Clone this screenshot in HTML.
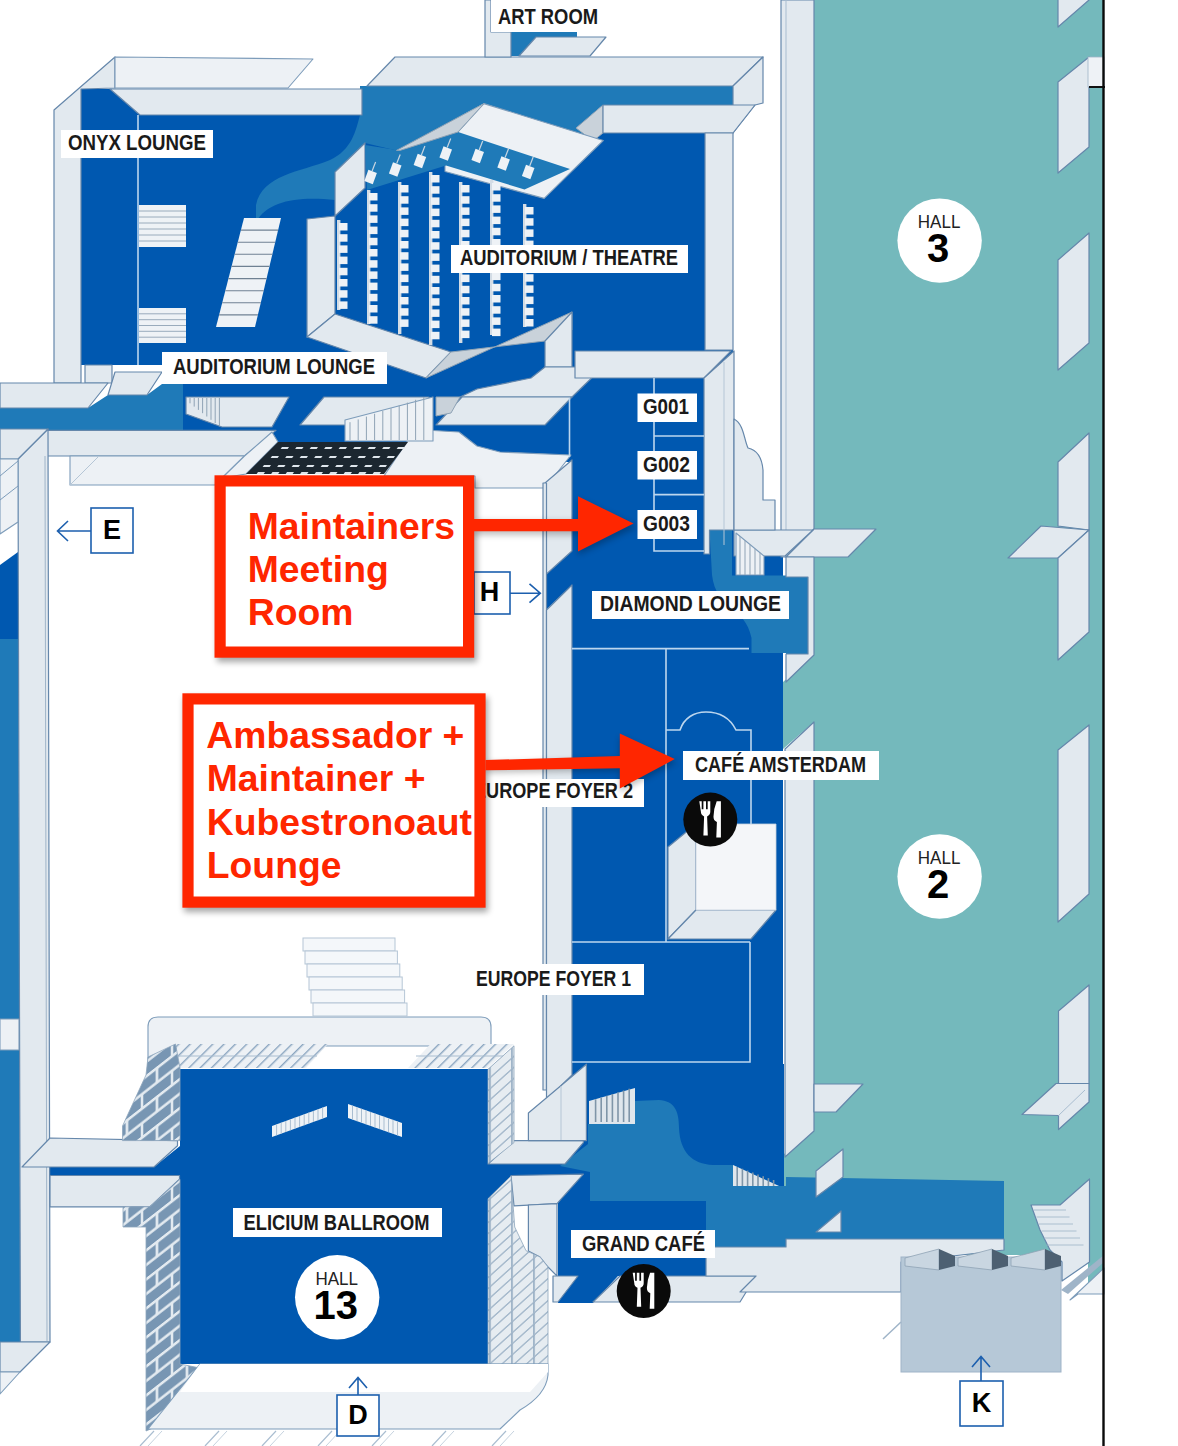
<!DOCTYPE html>
<html lang="en">
<head>
<meta charset="utf-8">
<title>Venue Map</title>
<style>
html,body{margin:0;padding:0;background:#fff;}
body{width:1178px;height:1446px;overflow:hidden;position:relative;font-family:"Liberation Sans",sans-serif;}
svg{position:absolute;left:0;top:0;display:block;}
.w{fill:#e2e9ef;stroke:#6587ab;stroke-width:1.2;stroke-linejoin:round;}
.w2{fill:#edf1f5;stroke:#7d9cba;stroke-width:1.1;stroke-linejoin:round;}
.wg{fill:#c9d2da;stroke:#8fa3b5;stroke-width:1;stroke-linejoin:round;}
.wn{fill:#e3eaf0;}
.db{fill:#0058b0;}
.mb{fill:#1f7ab8;}
.tl{fill:#74b9bc;}
.ln{fill:none;stroke:#bcd6ee;stroke-width:1.6;}
.st{fill:#eef2f6;stroke:#9fb2c4;stroke-width:0.8;}
.lab{fill:#fff;}
.lt{font-family:"Liberation Sans",sans-serif;font-weight:bold;fill:#1a1a1a;}
.ht{font-family:"Liberation Sans",sans-serif;fill:#222;text-anchor:middle;}
.hn{font-family:"Liberation Sans",sans-serif;font-weight:bold;fill:#000;text-anchor:middle;}
.eb{fill:#fff;stroke:#1c5fae;stroke-width:1.6;}
.et{font-family:"Liberation Sans",sans-serif;font-weight:bold;fill:#000;font-size:27px;text-anchor:middle;}
.ar{fill:none;stroke:#1c5fae;stroke-width:1.6;}
.red{fill:#ff2600;}
.rt{font-family:"Liberation Sans",sans-serif;font-weight:bold;fill:#ff2600;}
</style>
</head>
<body>
<svg width="1178" height="1446" viewBox="0 0 1178 1446">
<defs>
<pattern id="hatch" width="8" height="8" patternUnits="userSpaceOnUse" patternTransform="rotate(-45)">
<rect width="8" height="8" fill="#edf1f5"/><rect width="8" height="1.4" fill="#8aa5c0"/>
</pattern>
<pattern id="brick" width="30" height="29" patternUnits="userSpaceOnUse" patternTransform="skewY(-38)">
<rect width="30" height="29" fill="#7896b3"/><path d="M0 1.7H30M0 16.2H30" stroke="#e3eaf0" stroke-width="3.2" fill="none"/><path d="M7 1.7V16.2M22 16.2V30.7" stroke="#e3eaf0" stroke-width="2.6" fill="none"/>
</pattern>
<pattern id="brick2" width="22" height="11" patternUnits="userSpaceOnUse" patternTransform="skewY(-42)">
<rect width="22" height="11" fill="#e6ecf1"/><path d="M0 1H22M6 1V11" stroke="#94abc2" stroke-width="1.5" fill="none"/>
</pattern>
<filter id="sh" x="-10%" y="-10%" width="120%" height="125%"><feGaussianBlur stdDeviation="3"/></filter>
</defs>
<rect width="1178" height="1446" fill="#fff"/>

<!-- ===== HALLS (teal) ===== -->
<g id="halls">
<rect class="tl" x="812" y="0" width="291" height="1255"/><rect class="tl" x="1088" y="1250" width="15" height="44"/>
<polygon class="tl" points="783,682 814,655 814,722 783,749"/>
<polygon class="tl" points="784,1154 814,1131 814,1186 784,1186"/>
</g>


<!-- ===== DARK BLUE ===== -->
<g id="darkblue" class="db">
<!-- onyx + auditorium -->
<polygon points="81,89 112,89 140,115 733,115 733,380 571,380 571,462 400,462 400,444 183,444 183,384 162,384 162,365 81,365"/>
<!-- G rooms / diamond / europe foyers -->
<polygon points="571,378 705,378 705,530 783,530 783,1165 571,1165"/>
<polygon points="546,574 572,551 572,585 546,610"/>
<!-- lower right of foyers / grand cafe -->
<polygon points="586,1064 784,1064 784,1190 700,1190 586,1140"/>
<polygon points="558,1172 592,1172 592,1201 706,1201 706,1276 618,1276 593,1303 558,1303"/>
<!-- ballroom -->
<rect x="180" y="1069" width="308" height="295"/>
<!-- horizontal strip through ballroom -->
<polygon points="19,1167 154,1167 180,1146 180,1179 50,1175.5 19,1203"/>
<polygon points="488,1164 600,1164 600,1176 511,1176 488,1199"/>
<!-- far-left strip -->
<polygon points="0,565 18,552 18,639 0,639"/>
</g>

<!-- ===== MID BLUE ===== -->
<g id="midblue" class="mb">
<!-- swoosh in auditorium area -->
<path d="M360,86 L733,86 L733,105 L603,105 L576,128 L603,140.5 L483.9,103.6 L396.5,150.4 L365,143 L335,172 L335,200 C300,196 268,200 256,222 L256,205 C262,175 300,172 330,160 C352,150 356,130 360,115 Z"/>
<!-- art room -->
<rect x="511" y="32" width="66" height="24"/>
<!-- left band -->
<polygon points="0,408 88,408 108,395 147,395 162,384 183,384 183,430 0,430"/>
<!-- far-left column -->
<rect x="0" y="639" width="21" height="380"/>
<rect x="0" y="1050" width="21" height="292"/>
<!-- diamond lounge L -->
<path d="M709.5,530 L732,530 L732,575.5 L807.6,575.5 L807.6,653 L751.5,653 L751.5,638 C745,605 716,610 712,575 Z"/>
<rect x="786" y="577" width="22" height="77"/>
<!-- grand cafe blob -->
<path d="M588,1124 L635,1124 L635,1101 L659,1100 C674,1101 679,1110 679,1128 C680,1152 692,1164 713,1165 L733,1165 L779,1186 L786,1186 L786,1177 L1004,1181 L1004,1239 L786,1239 L786,1247 L706,1247 L706,1201 L590,1201 L590,1172 L560,1166 L588,1144 Z"/>
</g>

<!-- SECTION:BLUE -->

<!-- ===== WALLS ===== -->
<g id="walls">
<!-- hall wall column -->
<polygon class="w" points="781,0 814,0 814,529 786,557 781,557"/>
<line x1="786" y1="0" x2="786" y2="530" stroke="#a9bdd0" stroke-width="1"/>
<polygon class="w" points="814,529 876,529 848,557 786,557"/>
<polygon class="w" points="734,530 813,530 785,556 734,556"/>
<polygon class="w" points="786,557 814,557 814,655 786,682 786,654 808,654 808,577 786,577"/>
<polygon class="w" points="785,749 814,722 814,1131 785,1157"/>
<!-- onyx lounge -->
<polygon class="w" points="54,110 115,57 115,88 81,89 81,383 54,383"/>
<polygon class="w2" points="115,57 313,59 288,88 115,88"/>
<polygon class="w" points="110,89 362,89 362,115 140,115"/>
<polygon class="w" points="85,365 112,365 112,383 85,383"/>
<polygon class="w" points="0,383 108,383 88,408 0,408"/>
<polygon class="w" points="115,372 162,372 147,395 108,395"/>
<line class="ln" x1="138" y1="115" x2="138" y2="365"/>
<!-- top beams of auditorium -->
<polygon class="w" points="367,86 395,57 763,57 733,86"/>
<polygon class="w" points="733,86 763,57 763,103 755,105 733,133"/>
<polygon class="wg" points="576,128 603,105 603,133 593,141"/>
<polygon class="w" points="603,105 755,105 733,133 603,133"/>
<polygon class="w" points="705,133 733,133 733,350 705,350"/>
<!-- art room -->
<polygon class="w" points="485,0 491,0 491,32 511,32 511,57 485,57"/>
<polygon class="w" points="536,37 606,37 590,56 519,56"/>
<!-- auditorium hexagon -->
<polygon class="w" points="307,219 335,216 335,314 307,337"/>
<polygon class="w" points="335,172 365,143 365,188 335,216"/>
<polygon class="w" points="307,337 335,314 451,352 426,378"/>
<polygon class="w2" points="483.9,103.6 603.3,140.5 544.2,198.4 445,171.5 445,164 458,132"/>
<polygon class="mb" points="365,145 400,150.4 458,132 570,169 524.5,189.5 446,165.5 367,190"/>
<polygon class="wg" points="396.5,150.4 483.9,103.6 458,132 400,150.4"/>
<polygon class="wg" points="426,378 572,312 572,330 545,341 451,352"/>
<polygon class="w" points="545,341 572,312 572,367 545,367"/>
<!-- beams below auditorium -->
<polygon class="w" points="545,367 603,367 572,397 460,397 477,389 531,378"/>
<polygon class="w" points="462,397 572,397 545,425 436,425"/>
<polygon class="wg" points="436,397 460,397 451,413 436,416"/>
<polygon class="w" points="575,351 731,351 704,378 575,378"/>
<polygon class="w" points="704,378 734,351 734,530 709.5,530 709.5,554 704,554"/>
<line x1="724" y1="362" x2="724" y2="545" stroke="#b5c6d6" stroke-width="1"/>
<polygon class="w" points="324,397 429,397 429,423 408,428 408,440 347,440 347,425 300,425"/>
<polygon class="w" points="186,397 289,397 272,427 222,427 186,414"/>
<!-- curvy piece right of G rooms -->
<path class="w" d="M734,419 C744,424 744,440 748,448 C757,450 762,458 763,470 L763,500 L775,500 L775,530 L734,530 Z"/>
<!-- court: top beam -->
<polygon class="w" points="47,430.4 276,430.4 244.5,456 47,456"/>
<polygon class="w2" points="70,456 244.5,456 215,485 70,485"/><line x1="70" y1="485" x2="99" y2="456" stroke="#b5c6d6" stroke-width="1"/>
<polygon class="w2" points="384,476 408,440 408,429 459,432 477,446 500,452 571,455 545,488 475,488 475,476"/>
<!-- court: right column -->
<polygon class="w" points="545,483 572,460 572,551 546.5,574"/>
<polygon class="w" points="543,483 546.5,483 546.5,1090 543,1090"/>
<polygon class="w" points="546.5,610 572,585 572,1075 546.5,1100"/>
<!-- court: left column -->
<polygon class="w" points="18,459 48,429 50,1342 20.4,1342"/>
<line x1="45" y1="456" x2="47" y2="1342" stroke="#9fb4c8" stroke-width="1"/>
<!-- far-left bits -->
<polygon class="w" points="0,429 48,429 18,459 0,459"/><polygon class="w2" points="0,459 18,459 18,522 0,534"/><path d="M0,476 L18,461 M0,500 L18,486" stroke="#7d9cba" stroke-width="1" fill="none"/>
<polygon class="w2" points="0,1019 19,1019 19,1050 0,1050"/>
<polygon class="w" points="0,1342 50,1342 20,1372 0,1372"/>
<polygon class="w2" points="0,1372 20,1372 0,1394"/>
<!-- beams to ballroom (left) -->
<polygon class="w" points="22,1167 50,1138 177.5,1140.6 177.5,1145.7 154,1167"/>
<polygon class="w" points="50,1175.5 179.5,1175.5 179.5,1179.3 150,1206.8 50,1206.8"/>
<!-- beams to ballroom (right) -->
<polygon class="w" points="488,1164 514,1140.6 583.4,1140.6 583.4,1142.6 565,1164"/>
<polygon class="w" points="528.4,1113 586.4,1064.2 586.4,1140.6 528.4,1140.6"/><line x1="561" y1="1086" x2="561" y2="1140" stroke="#b5c6d6" stroke-width="1"/>
<polygon class="w" points="511,1175.5 583.4,1174.2 557,1203.7 514,1205.8"/><polygon class="w" points="528.4,1205 557,1203.7 557,1276 548,1267 540,1257 528.4,1251"/>
<!-- ballroom top band -->
<path class="w2" d="M148,1069 L148,1027 Q148,1017 158,1017 L481,1017 Q491,1017 491,1027 L491,1046 L180,1046 Z"/>
<polygon fill="url(#hatch)" points="175.5,1044 328,1044 306,1068 180,1068"/><line x1="178" y1="1056" x2="317" y2="1056" stroke="#a9bdd0" stroke-width="1"/>
<polygon fill="url(#hatch)" points="430.6,1044 514,1044 488,1068 408,1068"/><line x1="416" y1="1056" x2="514" y2="1056" stroke="#a9bdd0" stroke-width="1"/>
<!-- brick walls -->
<polygon fill="url(#brick)" stroke="#8ea6bc" stroke-width="0.8" points="122.5,1140.6 122.5,1126 146,1075 148,1057 175.5,1044 180,1068 180,1140.6"/>
<polygon fill="url(#brick)" stroke="#8ea6bc" stroke-width="0.8" points="123,1206.8 150,1206.8 180,1179.3 180,1364 200,1368 153,1428 146,1431 146,1227 123,1227"/>
<polygon fill="url(#brick2)" stroke="#8ea6bc" stroke-width="0.8" points="488,1069.3 514,1045.8 514,1142.6 488,1163.5"/>
<polygon fill="url(#brick2)" stroke="#8ea6bc" stroke-width="0.8" points="488,1198.7 511,1176 514.7,1227 526,1250.7 540,1257 548,1267 548,1364 488,1364"/>
<!-- ballroom base -->
<path class="w2" d="M200,1364 L548,1364 L548,1375 Q546,1395 520,1410 L500,1429 L148,1429 Z"/>
<polygon fill="#fff" points="200,1364 548,1364 548,1372 530,1392 180,1392"/>
<!-- grand cafe floor strips -->
<polygon class="w" points="553,1276 578,1276 558,1302 553,1302"/>
<polygon class="w" points="620,1276 756,1276 740,1302 593,1302"/>
<polygon class="w" points="706,1247 786,1247 786,1239 1004,1239 1004,1250 901,1262 901,1292 740,1292 756,1276 706,1276"/>
<!-- cafe amsterdam white box -->
<polygon class="w" points="668,847 696,824 696,910 668,939"/>
<polygon class="w" points="668,939 696,910 776,910 751,939"/>
<polygon fill="#f4f6f9" stroke="#c5d2de" stroke-width="0.8" points="696,824 776,824 776,910 696,910"/>
<!-- K box -->
<rect x="901" y="1257" width="160" height="115" fill="#b6c8d7" stroke="#9fb4c8" stroke-width="1"/>
</g>

<!-- SECTION:WALLS -->
<!-- ===== DETAILS ===== -->
<g id="details">
<polygon class="w" points="1058,-5 1089,-30 1089,0 1058,27"/>
<polygon class="w" points="1058,82 1089,57 1089,147 1058,173"/>
<rect x="1088" y="57" width="16" height="30" fill="#eef2f6" stroke="#9fb4c8" stroke-width="0.8"/><rect x="1089" y="86" width="16" height="2" fill="#111"/>
<polygon class="w" points="1058,260 1089,233 1089,343 1058,370"/>
<polygon class="w" points="1058,462 1089,433 1089,530 1058,526"/>
<polygon class="w" points="1008,558 1041,526 1089,530 1058,558"/>
<polygon class="w" points="1058,558 1089,530 1089,632 1058,660"/>
<polygon class="w" points="1058,750 1089,725 1089,894 1058,922"/>
<polygon class="w" points="1058.5,1011 1089,985 1089,1084 1058.5,1084"/>
<polygon class="w" points="1022,1114.5 1056,1083.5 1089,1083.5 1089,1102 1058.5,1129.5 1058.5,1115.5"/><line x1="1058.5" y1="1115.5" x2="1085" y2="1090" stroke="#a9bdd0" stroke-width="1"/>
<polygon class="w" points="1031,1205 1060,1205 1089.5,1179 1089.5,1262 1062,1281 1062,1262 1050,1250 1040,1230"/>
<line x1="1034.0" y1="1210" x2="1066.0" y2="1210" stroke="#9fb4c8" stroke-width="0.8"/>
<line x1="1036.5" y1="1217" x2="1069.5" y2="1217" stroke="#9fb4c8" stroke-width="0.8"/>
<line x1="1039.0" y1="1224" x2="1073.0" y2="1224" stroke="#9fb4c8" stroke-width="0.8"/>
<line x1="1041.5" y1="1231" x2="1076.5" y2="1231" stroke="#9fb4c8" stroke-width="0.8"/>
<line x1="1044.0" y1="1238" x2="1080.0" y2="1238" stroke="#9fb4c8" stroke-width="0.8"/>
<line x1="1046.5" y1="1245" x2="1083.5" y2="1245" stroke="#9fb4c8" stroke-width="0.8"/>
<polygon class="w" points="814,1084 863,1084 836,1112 814,1112"/>
<polygon class="w" points="816,1171 843,1149 843,1177 816,1197"/>
<polygon class="w" points="816,1232 841,1211 841,1232"/>
<polygon fill="#c9d6e1" stroke="#8fa3b5" stroke-width="0.8" points="905,1258 939,1249 939,1270 905,1266"/><polygon fill="#4d6072" points="939,1249 955,1256 955,1266 939,1270"/>
<polygon fill="#c9d6e1" stroke="#8fa3b5" stroke-width="0.8" points="958,1258 992,1249 992,1270 958,1266"/><polygon fill="#4d6072" points="992,1249 1008,1256 1008,1266 992,1270"/>
<polygon fill="#c9d6e1" stroke="#8fa3b5" stroke-width="0.8" points="1011,1258 1045,1249 1045,1270 1011,1266"/><polygon fill="#4d6072" points="1045,1249 1061,1256 1061,1266 1045,1270"/>
<polygon fill="#9fb4c8" points="1061,1290 1104,1255 1104,1262 1068,1294"/><polygon class="w2" points="1070,1300 1104,1268 1104,1294 1078,1294"/>
<line x1="883" y1="1339" x2="901" y2="1322" stroke="#9fb4c8" stroke-width="1.5"/>
<path class="ln" d="M654,378 V551 H704 M654,436 H704 M654,494.6 H704 M569.5,398 V457"/>
<path class="ln" d="M572,648.6 H749 M666,648.6 V942 H572 M666,730 H680 C684,718 694,712 706,712 C720,712 730,718 736,730 H751 V824 M750,942 V1062 H572 M666,942 H750"/>
<rect x="139" y="205" width="47" height="42" fill="#eef2f6"/><line x1="139" y1="211.0" x2="186" y2="211.0" stroke="#8fa3b5" stroke-width="0.9"/><line x1="139" y1="217.0" x2="186" y2="217.0" stroke="#8fa3b5" stroke-width="0.9"/><line x1="139" y1="223.0" x2="186" y2="223.0" stroke="#8fa3b5" stroke-width="0.9"/><line x1="139" y1="229.0" x2="186" y2="229.0" stroke="#8fa3b5" stroke-width="0.9"/><line x1="139" y1="235.0" x2="186" y2="235.0" stroke="#8fa3b5" stroke-width="0.9"/><line x1="139" y1="241.0" x2="186" y2="241.0" stroke="#8fa3b5" stroke-width="0.9"/>
<rect x="139" y="308" width="47" height="35" fill="#eef2f6"/><line x1="139" y1="313.8" x2="186" y2="313.8" stroke="#8fa3b5" stroke-width="0.9"/><line x1="139" y1="319.7" x2="186" y2="319.7" stroke="#8fa3b5" stroke-width="0.9"/><line x1="139" y1="325.5" x2="186" y2="325.5" stroke="#8fa3b5" stroke-width="0.9"/><line x1="139" y1="331.3" x2="186" y2="331.3" stroke="#8fa3b5" stroke-width="0.9"/><line x1="139" y1="337.2" x2="186" y2="337.2" stroke="#8fa3b5" stroke-width="0.9"/>
<polygon fill="#eef2f6" points="244,218 281,218 255,327 216,327"/>
<line x1="240.9" y1="230.1" x2="278.1" y2="230.1" stroke="#6f8193" stroke-width="1.1"/>
<line x1="237.8" y1="242.2" x2="275.2" y2="242.2" stroke="#6f8193" stroke-width="1.1"/>
<line x1="234.7" y1="254.3" x2="272.3" y2="254.3" stroke="#6f8193" stroke-width="1.1"/>
<line x1="231.6" y1="266.4" x2="269.4" y2="266.4" stroke="#6f8193" stroke-width="1.1"/>
<line x1="228.4" y1="278.6" x2="266.6" y2="278.6" stroke="#6f8193" stroke-width="1.1"/>
<line x1="225.3" y1="290.7" x2="263.7" y2="290.7" stroke="#6f8193" stroke-width="1.1"/>
<line x1="222.2" y1="302.8" x2="260.8" y2="302.8" stroke="#6f8193" stroke-width="1.1"/>
<line x1="219.1" y1="314.9" x2="257.9" y2="314.9" stroke="#6f8193" stroke-width="1.1"/>
<line x1="190.0" y1="398" x2="190.0" y2="403.3" stroke="#8fa3b5" stroke-width="1"/><line x1="194.2" y1="398" x2="194.2" y2="406.6" stroke="#8fa3b5" stroke-width="1"/><line x1="198.4" y1="398" x2="198.4" y2="409.9" stroke="#8fa3b5" stroke-width="1"/><line x1="202.6" y1="398" x2="202.6" y2="413.2" stroke="#8fa3b5" stroke-width="1"/><line x1="206.8" y1="398" x2="206.8" y2="416.5" stroke="#8fa3b5" stroke-width="1"/><line x1="211.0" y1="398" x2="211.0" y2="419.8" stroke="#8fa3b5" stroke-width="1"/><line x1="215.2" y1="398" x2="215.2" y2="423.1" stroke="#8fa3b5" stroke-width="1"/><line x1="219.4" y1="398" x2="219.4" y2="426.4" stroke="#8fa3b5" stroke-width="1"/>
<polygon class="w2" points="345,420 433,397 433,441 345,441"/><line x1="350.0" y1="422.2" x2="350.0" y2="440" stroke="#8fa3b5" stroke-width="1"/><line x1="358.2" y1="419.4" x2="358.2" y2="440" stroke="#8fa3b5" stroke-width="1"/><line x1="366.4" y1="416.6" x2="366.4" y2="440" stroke="#8fa3b5" stroke-width="1"/><line x1="374.6" y1="413.8" x2="374.6" y2="440" stroke="#8fa3b5" stroke-width="1"/><line x1="382.8" y1="411.0" x2="382.8" y2="440" stroke="#8fa3b5" stroke-width="1"/><line x1="391.0" y1="408.2" x2="391.0" y2="440" stroke="#8fa3b5" stroke-width="1"/><line x1="399.2" y1="405.4" x2="399.2" y2="440" stroke="#8fa3b5" stroke-width="1"/><line x1="407.4" y1="402.6" x2="407.4" y2="440" stroke="#8fa3b5" stroke-width="1"/><line x1="415.6" y1="399.8" x2="415.6" y2="440" stroke="#8fa3b5" stroke-width="1"/><line x1="423.8" y1="397.0" x2="423.8" y2="440" stroke="#8fa3b5" stroke-width="1"/>
<polygon class="w2" points="244.5,456 272,432 278,442 246,474 222,478"/><polygon fill="#1c2730" points="278,442 408,442 384,474 246,474"/>
<rect x="282.0" y="447" width="7" height="2" fill="#dfe6ec" transform="skewX(-35)" transform-origin="282.0 447"/><rect x="296.5" y="447" width="7" height="2" fill="#dfe6ec" transform="skewX(-35)" transform-origin="296.5 447"/><rect x="311.0" y="447" width="7" height="2" fill="#dfe6ec" transform="skewX(-35)" transform-origin="311.0 447"/><rect x="325.5" y="447" width="7" height="2" fill="#dfe6ec" transform="skewX(-35)" transform-origin="325.5 447"/><rect x="340.0" y="447" width="7" height="2" fill="#dfe6ec" transform="skewX(-35)" transform-origin="340.0 447"/><rect x="354.5" y="447" width="7" height="2" fill="#dfe6ec" transform="skewX(-35)" transform-origin="354.5 447"/><rect x="369.0" y="447" width="7" height="2" fill="#dfe6ec" transform="skewX(-35)" transform-origin="369.0 447"/><rect x="383.5" y="447" width="7" height="2" fill="#dfe6ec" transform="skewX(-35)" transform-origin="383.5 447"/><rect x="398.0" y="447" width="7" height="2" fill="#dfe6ec" transform="skewX(-35)" transform-origin="398.0 447"/><rect x="272.0" y="456" width="7" height="2" fill="#dfe6ec" transform="skewX(-35)" transform-origin="272.0 456"/><rect x="286.5" y="456" width="7" height="2" fill="#dfe6ec" transform="skewX(-35)" transform-origin="286.5 456"/><rect x="301.0" y="456" width="7" height="2" fill="#dfe6ec" transform="skewX(-35)" transform-origin="301.0 456"/><rect x="315.5" y="456" width="7" height="2" fill="#dfe6ec" transform="skewX(-35)" transform-origin="315.5 456"/><rect x="330.0" y="456" width="7" height="2" fill="#dfe6ec" transform="skewX(-35)" transform-origin="330.0 456"/><rect x="344.5" y="456" width="7" height="2" fill="#dfe6ec" transform="skewX(-35)" transform-origin="344.5 456"/><rect x="359.0" y="456" width="7" height="2" fill="#dfe6ec" transform="skewX(-35)" transform-origin="359.0 456"/><rect x="373.5" y="456" width="7" height="2" fill="#dfe6ec" transform="skewX(-35)" transform-origin="373.5 456"/><rect x="388.0" y="456" width="7" height="2" fill="#dfe6ec" transform="skewX(-35)" transform-origin="388.0 456"/><rect x="264.0" y="465" width="7" height="2" fill="#dfe6ec" transform="skewX(-35)" transform-origin="264.0 465"/><rect x="278.5" y="465" width="7" height="2" fill="#dfe6ec" transform="skewX(-35)" transform-origin="278.5 465"/><rect x="293.0" y="465" width="7" height="2" fill="#dfe6ec" transform="skewX(-35)" transform-origin="293.0 465"/><rect x="307.5" y="465" width="7" height="2" fill="#dfe6ec" transform="skewX(-35)" transform-origin="307.5 465"/><rect x="322.0" y="465" width="7" height="2" fill="#dfe6ec" transform="skewX(-35)" transform-origin="322.0 465"/><rect x="336.5" y="465" width="7" height="2" fill="#dfe6ec" transform="skewX(-35)" transform-origin="336.5 465"/><rect x="351.0" y="465" width="7" height="2" fill="#dfe6ec" transform="skewX(-35)" transform-origin="351.0 465"/><rect x="365.5" y="465" width="7" height="2" fill="#dfe6ec" transform="skewX(-35)" transform-origin="365.5 465"/><rect x="380.0" y="465" width="7" height="2" fill="#dfe6ec" transform="skewX(-35)" transform-origin="380.0 465"/><rect x="258.0" y="472" width="7" height="2" fill="#dfe6ec" transform="skewX(-35)" transform-origin="258.0 472"/><rect x="272.5" y="472" width="7" height="2" fill="#dfe6ec" transform="skewX(-35)" transform-origin="272.5 472"/><rect x="287.0" y="472" width="7" height="2" fill="#dfe6ec" transform="skewX(-35)" transform-origin="287.0 472"/><rect x="301.5" y="472" width="7" height="2" fill="#dfe6ec" transform="skewX(-35)" transform-origin="301.5 472"/><rect x="316.0" y="472" width="7" height="2" fill="#dfe6ec" transform="skewX(-35)" transform-origin="316.0 472"/><rect x="330.5" y="472" width="7" height="2" fill="#dfe6ec" transform="skewX(-35)" transform-origin="330.5 472"/><rect x="345.0" y="472" width="7" height="2" fill="#dfe6ec" transform="skewX(-35)" transform-origin="345.0 472"/><rect x="359.5" y="472" width="7" height="2" fill="#dfe6ec" transform="skewX(-35)" transform-origin="359.5 472"/><rect x="374.0" y="472" width="7" height="2" fill="#dfe6ec" transform="skewX(-35)" transform-origin="374.0 472"/>
<rect x="337" y="220" width="3.4" height="90" fill="#d3dce5"/><rect x="339" y="223.0" width="8.5" height="7.5" fill="#eef2f6"/><rect x="339" y="234.2" width="8.5" height="7.5" fill="#eef2f6"/><rect x="339" y="245.4" width="8.5" height="7.5" fill="#eef2f6"/><rect x="339" y="256.6" width="8.5" height="7.5" fill="#eef2f6"/><rect x="339" y="267.8" width="8.5" height="7.5" fill="#eef2f6"/><rect x="339" y="279.0" width="8.5" height="7.5" fill="#eef2f6"/><rect x="339" y="290.2" width="8.5" height="7.5" fill="#eef2f6"/><rect x="339" y="301.4" width="8.5" height="7.5" fill="#eef2f6"/>
<rect x="367" y="190" width="3.4" height="134" fill="#d3dce5"/><rect x="369" y="193.0" width="8.5" height="7.5" fill="#eef2f6"/><rect x="369" y="204.2" width="8.5" height="7.5" fill="#eef2f6"/><rect x="369" y="215.4" width="8.5" height="7.5" fill="#eef2f6"/><rect x="369" y="226.6" width="8.5" height="7.5" fill="#eef2f6"/><rect x="369" y="237.8" width="8.5" height="7.5" fill="#eef2f6"/><rect x="369" y="249.0" width="8.5" height="7.5" fill="#eef2f6"/><rect x="369" y="260.2" width="8.5" height="7.5" fill="#eef2f6"/><rect x="369" y="271.4" width="8.5" height="7.5" fill="#eef2f6"/><rect x="369" y="282.6" width="8.5" height="7.5" fill="#eef2f6"/><rect x="369" y="293.8" width="8.5" height="7.5" fill="#eef2f6"/><rect x="369" y="305.0" width="8.5" height="7.5" fill="#eef2f6"/><rect x="369" y="316.2" width="8.5" height="7.5" fill="#eef2f6"/>
<rect x="398" y="182" width="3.4" height="152" fill="#d3dce5"/><rect x="400" y="185.0" width="8.5" height="7.5" fill="#eef2f6"/><rect x="400" y="196.2" width="8.5" height="7.5" fill="#eef2f6"/><rect x="400" y="207.4" width="8.5" height="7.5" fill="#eef2f6"/><rect x="400" y="218.6" width="8.5" height="7.5" fill="#eef2f6"/><rect x="400" y="229.8" width="8.5" height="7.5" fill="#eef2f6"/><rect x="400" y="241.0" width="8.5" height="7.5" fill="#eef2f6"/><rect x="400" y="252.2" width="8.5" height="7.5" fill="#eef2f6"/><rect x="400" y="263.4" width="8.5" height="7.5" fill="#eef2f6"/><rect x="400" y="274.6" width="8.5" height="7.5" fill="#eef2f6"/><rect x="400" y="285.8" width="8.5" height="7.5" fill="#eef2f6"/><rect x="400" y="297.0" width="8.5" height="7.5" fill="#eef2f6"/><rect x="400" y="308.2" width="8.5" height="7.5" fill="#eef2f6"/><rect x="400" y="319.4" width="8.5" height="7.5" fill="#eef2f6"/>
<rect x="429" y="172" width="3.4" height="173" fill="#d3dce5"/><rect x="431" y="175.0" width="8.5" height="7.5" fill="#eef2f6"/><rect x="431" y="186.2" width="8.5" height="7.5" fill="#eef2f6"/><rect x="431" y="197.4" width="8.5" height="7.5" fill="#eef2f6"/><rect x="431" y="208.6" width="8.5" height="7.5" fill="#eef2f6"/><rect x="431" y="219.8" width="8.5" height="7.5" fill="#eef2f6"/><rect x="431" y="231.0" width="8.5" height="7.5" fill="#eef2f6"/><rect x="431" y="242.2" width="8.5" height="7.5" fill="#eef2f6"/><rect x="431" y="253.4" width="8.5" height="7.5" fill="#eef2f6"/><rect x="431" y="264.6" width="8.5" height="7.5" fill="#eef2f6"/><rect x="431" y="275.8" width="8.5" height="7.5" fill="#eef2f6"/><rect x="431" y="287.0" width="8.5" height="7.5" fill="#eef2f6"/><rect x="431" y="298.2" width="8.5" height="7.5" fill="#eef2f6"/><rect x="431" y="309.4" width="8.5" height="7.5" fill="#eef2f6"/><rect x="431" y="320.6" width="8.5" height="7.5" fill="#eef2f6"/><rect x="431" y="331.8" width="8.5" height="7.5" fill="#eef2f6"/>
<rect x="459" y="182" width="3.4" height="161" fill="#d3dce5"/><rect x="461" y="185.0" width="8.5" height="7.5" fill="#eef2f6"/><rect x="461" y="196.2" width="8.5" height="7.5" fill="#eef2f6"/><rect x="461" y="207.4" width="8.5" height="7.5" fill="#eef2f6"/><rect x="461" y="218.6" width="8.5" height="7.5" fill="#eef2f6"/><rect x="461" y="229.8" width="8.5" height="7.5" fill="#eef2f6"/><rect x="461" y="241.0" width="8.5" height="7.5" fill="#eef2f6"/><rect x="461" y="252.2" width="8.5" height="7.5" fill="#eef2f6"/><rect x="461" y="263.4" width="8.5" height="7.5" fill="#eef2f6"/><rect x="461" y="274.6" width="8.5" height="7.5" fill="#eef2f6"/><rect x="461" y="285.8" width="8.5" height="7.5" fill="#eef2f6"/><rect x="461" y="297.0" width="8.5" height="7.5" fill="#eef2f6"/><rect x="461" y="308.2" width="8.5" height="7.5" fill="#eef2f6"/><rect x="461" y="319.4" width="8.5" height="7.5" fill="#eef2f6"/><rect x="461" y="330.6" width="8.5" height="7.5" fill="#eef2f6"/>
<rect x="490" y="180" width="3.4" height="155" fill="#d3dce5"/><rect x="492" y="183.0" width="8.5" height="7.5" fill="#eef2f6"/><rect x="492" y="194.2" width="8.5" height="7.5" fill="#eef2f6"/><rect x="492" y="205.4" width="8.5" height="7.5" fill="#eef2f6"/><rect x="492" y="216.6" width="8.5" height="7.5" fill="#eef2f6"/><rect x="492" y="227.8" width="8.5" height="7.5" fill="#eef2f6"/><rect x="492" y="239.0" width="8.5" height="7.5" fill="#eef2f6"/><rect x="492" y="250.2" width="8.5" height="7.5" fill="#eef2f6"/><rect x="492" y="261.4" width="8.5" height="7.5" fill="#eef2f6"/><rect x="492" y="272.6" width="8.5" height="7.5" fill="#eef2f6"/><rect x="492" y="283.8" width="8.5" height="7.5" fill="#eef2f6"/><rect x="492" y="295.0" width="8.5" height="7.5" fill="#eef2f6"/><rect x="492" y="306.2" width="8.5" height="7.5" fill="#eef2f6"/><rect x="492" y="317.4" width="8.5" height="7.5" fill="#eef2f6"/><rect x="492" y="328.6" width="8.5" height="7.5" fill="#eef2f6"/>
<rect x="523" y="204" width="3.4" height="123" fill="#d3dce5"/><rect x="525" y="207.0" width="8.5" height="7.5" fill="#eef2f6"/><rect x="525" y="218.2" width="8.5" height="7.5" fill="#eef2f6"/><rect x="525" y="229.4" width="8.5" height="7.5" fill="#eef2f6"/><rect x="525" y="240.6" width="8.5" height="7.5" fill="#eef2f6"/><rect x="525" y="251.8" width="8.5" height="7.5" fill="#eef2f6"/><rect x="525" y="263.0" width="8.5" height="7.5" fill="#eef2f6"/><rect x="525" y="274.2" width="8.5" height="7.5" fill="#eef2f6"/><rect x="525" y="285.4" width="8.5" height="7.5" fill="#eef2f6"/><rect x="525" y="296.6" width="8.5" height="7.5" fill="#eef2f6"/><rect x="525" y="307.8" width="8.5" height="7.5" fill="#eef2f6"/><rect x="525" y="319.0" width="8.5" height="7.5" fill="#eef2f6"/>
<rect x="366.1" y="171.0" width="9" height="12" fill="#eef2f6" transform="rotate(20 370.6 177)"/><line x1="372.1" y1="171.0" x2="375.6" y2="162.0" stroke="#c9d6e1" stroke-width="1.2"/><rect x="390.7" y="163.5" width="9" height="12" fill="#eef2f6" transform="rotate(20 395.2 169.5)"/><line x1="396.7" y1="163.5" x2="400.2" y2="154.5" stroke="#c9d6e1" stroke-width="1.2"/><rect x="415.4" y="155.0" width="9" height="12" fill="#eef2f6" transform="rotate(20 419.9 161)"/><line x1="421.4" y1="155.0" x2="424.9" y2="146.0" stroke="#c9d6e1" stroke-width="1.2"/><rect x="441.2" y="147.5" width="9" height="12" fill="#eef2f6" transform="rotate(20 445.7 153.5)"/><line x1="447.2" y1="147.5" x2="450.7" y2="138.5" stroke="#c9d6e1" stroke-width="1.2"/><rect x="473.2" y="150.0" width="9" height="12" fill="#eef2f6" transform="rotate(20 477.7 156)"/><line x1="479.2" y1="150.0" x2="482.7" y2="141.0" stroke="#c9d6e1" stroke-width="1.2"/><rect x="499.1" y="157.5" width="9" height="12" fill="#eef2f6" transform="rotate(20 503.6 163.5)"/><line x1="505.1" y1="157.5" x2="508.6" y2="148.5" stroke="#c9d6e1" stroke-width="1.2"/><rect x="523.7" y="166.0" width="9" height="12" fill="#eef2f6" transform="rotate(20 528.2 172)"/><line x1="529.7" y1="166.0" x2="533.2" y2="157.0" stroke="#c9d6e1" stroke-width="1.2"/>
<polygon class="w2" points="736,533 764,556 764,575 736,575"/><line x1="740" y1="536.0" x2="740" y2="575" stroke="#8fa3b5" stroke-width="1"/><line x1="745" y1="540.2" x2="745" y2="575" stroke="#8fa3b5" stroke-width="1"/><line x1="750" y1="544.4" x2="750" y2="575" stroke="#8fa3b5" stroke-width="1"/><line x1="755" y1="548.6" x2="755" y2="575" stroke="#8fa3b5" stroke-width="1"/><line x1="760" y1="552.8" x2="760" y2="575" stroke="#8fa3b5" stroke-width="1"/>
<g stroke="#b5c6d6" stroke-width="1" fill="#f4f7fa"><rect x="303.0" y="938" width="92.0" height="13"/><rect x="305.0" y="951" width="92.4" height="13"/><rect x="307.0" y="964" width="92.8" height="13"/><rect x="309.0" y="977" width="93.2" height="13"/><rect x="311.0" y="990" width="93.6" height="13"/><rect x="313.0" y="1003" width="94.0" height="13"/></g>
<polygon fill="#eef2f6" points="272,1126 327,1106 327,1117 272,1137"/><polygon fill="#eef2f6" points="348,1104 402,1123 402,1137 348,1118"/>
<line x1="276.6" y1="1124.3" x2="276.6" y2="1135.3" stroke="#a9bdd0" stroke-width="1"/><line x1="352.5" y1="1105.6" x2="352.5" y2="1119.6" stroke="#a9bdd0" stroke-width="1"/><line x1="281.2" y1="1122.7" x2="281.2" y2="1133.7" stroke="#a9bdd0" stroke-width="1"/><line x1="357.0" y1="1107.2" x2="357.0" y2="1121.2" stroke="#a9bdd0" stroke-width="1"/><line x1="285.8" y1="1121.0" x2="285.8" y2="1132.0" stroke="#a9bdd0" stroke-width="1"/><line x1="361.5" y1="1108.8" x2="361.5" y2="1122.8" stroke="#a9bdd0" stroke-width="1"/><line x1="290.4" y1="1119.3" x2="290.4" y2="1130.3" stroke="#a9bdd0" stroke-width="1"/><line x1="366.0" y1="1110.3" x2="366.0" y2="1124.3" stroke="#a9bdd0" stroke-width="1"/><line x1="295.0" y1="1117.6" x2="295.0" y2="1128.6" stroke="#a9bdd0" stroke-width="1"/><line x1="370.5" y1="1111.9" x2="370.5" y2="1125.9" stroke="#a9bdd0" stroke-width="1"/><line x1="299.6" y1="1116.0" x2="299.6" y2="1127.0" stroke="#a9bdd0" stroke-width="1"/><line x1="375.0" y1="1113.5" x2="375.0" y2="1127.5" stroke="#a9bdd0" stroke-width="1"/><line x1="304.2" y1="1114.3" x2="304.2" y2="1125.3" stroke="#a9bdd0" stroke-width="1"/><line x1="379.5" y1="1115.1" x2="379.5" y2="1129.1" stroke="#a9bdd0" stroke-width="1"/><line x1="308.8" y1="1112.6" x2="308.8" y2="1123.6" stroke="#a9bdd0" stroke-width="1"/><line x1="384.0" y1="1116.7" x2="384.0" y2="1130.7" stroke="#a9bdd0" stroke-width="1"/><line x1="313.4" y1="1110.9" x2="313.4" y2="1121.9" stroke="#a9bdd0" stroke-width="1"/><line x1="388.5" y1="1118.2" x2="388.5" y2="1132.2" stroke="#a9bdd0" stroke-width="1"/><line x1="318.0" y1="1109.3" x2="318.0" y2="1120.3" stroke="#a9bdd0" stroke-width="1"/><line x1="393.0" y1="1119.8" x2="393.0" y2="1133.8" stroke="#a9bdd0" stroke-width="1"/><line x1="322.6" y1="1107.6" x2="322.6" y2="1118.6" stroke="#a9bdd0" stroke-width="1"/><line x1="397.5" y1="1121.4" x2="397.5" y2="1135.4" stroke="#a9bdd0" stroke-width="1"/>
<polygon fill="#dfe6ec" points="589,1101 635,1088 635,1124 589,1124"/><line x1="595.6" y1="1099.3" x2="595.6" y2="1122" stroke="#7f95a8" stroke-width="1.6"/><line x1="601.2" y1="1097.5" x2="601.2" y2="1122" stroke="#7f95a8" stroke-width="1.6"/><line x1="606.8" y1="1095.8" x2="606.8" y2="1122" stroke="#7f95a8" stroke-width="1.6"/><line x1="612.4" y1="1094.0" x2="612.4" y2="1122" stroke="#7f95a8" stroke-width="1.6"/><line x1="618.0" y1="1092.3" x2="618.0" y2="1122" stroke="#7f95a8" stroke-width="1.6"/><line x1="623.6" y1="1090.5" x2="623.6" y2="1122" stroke="#7f95a8" stroke-width="1.6"/><line x1="629.2" y1="1088.8" x2="629.2" y2="1122" stroke="#7f95a8" stroke-width="1.6"/>
<polygon fill="#dfe6ec" points="733,1165 779,1186 733,1186"/><line x1="737.2" y1="1166.9" x2="737.2" y2="1186" stroke="#7f95a8" stroke-width="1.6"/><line x1="742.4" y1="1168.7" x2="742.4" y2="1186" stroke="#7f95a8" stroke-width="1.6"/><line x1="747.6" y1="1170.6" x2="747.6" y2="1186" stroke="#7f95a8" stroke-width="1.6"/><line x1="752.8" y1="1172.5" x2="752.8" y2="1186" stroke="#7f95a8" stroke-width="1.6"/><line x1="758.0" y1="1174.4" x2="758.0" y2="1186" stroke="#7f95a8" stroke-width="1.6"/><line x1="763.2" y1="1176.2" x2="763.2" y2="1186" stroke="#7f95a8" stroke-width="1.6"/><line x1="768.4" y1="1178.1" x2="768.4" y2="1186" stroke="#7f95a8" stroke-width="1.6"/><line x1="773.6" y1="1180.0" x2="773.6" y2="1186" stroke="#7f95a8" stroke-width="1.6"/>
<line x1="140" y1="1446" x2="154" y2="1431" stroke="#a9bdd0" stroke-width="1.2"/><line x1="148" y1="1446" x2="162" y2="1431" stroke="#c5d2de" stroke-width="1"/><line x1="205" y1="1446" x2="219" y2="1431" stroke="#a9bdd0" stroke-width="1.2"/><line x1="213" y1="1446" x2="227" y2="1431" stroke="#c5d2de" stroke-width="1"/><line x1="262" y1="1446" x2="276" y2="1431" stroke="#a9bdd0" stroke-width="1.2"/><line x1="270" y1="1446" x2="284" y2="1431" stroke="#c5d2de" stroke-width="1"/><line x1="318" y1="1446" x2="332" y2="1431" stroke="#a9bdd0" stroke-width="1.2"/><line x1="326" y1="1446" x2="340" y2="1431" stroke="#c5d2de" stroke-width="1"/><line x1="372" y1="1446" x2="386" y2="1431" stroke="#a9bdd0" stroke-width="1.2"/><line x1="380" y1="1446" x2="394" y2="1431" stroke="#c5d2de" stroke-width="1"/><line x1="432" y1="1446" x2="446" y2="1431" stroke="#a9bdd0" stroke-width="1.2"/><line x1="440" y1="1446" x2="454" y2="1431" stroke="#c5d2de" stroke-width="1"/><line x1="492" y1="1446" x2="506" y2="1431" stroke="#a9bdd0" stroke-width="1.2"/><line x1="500" y1="1446" x2="514" y2="1431" stroke="#c5d2de" stroke-width="1"/>
</g>

<!-- SECTION:DETAILS -->
<!-- ===== LABELS ===== -->
<g id="labels">
<rect class="lab" x="491" y="-2" width="115" height="34"/><text class="lt" x="498" y="23.8" font-size="21.5" textLength="100" lengthAdjust="spacingAndGlyphs">ART ROOM</text>
<rect class="lab" x="61" y="130" width="152" height="28"/><text class="lt" x="68" y="149.8" font-size="21.5" textLength="138" lengthAdjust="spacingAndGlyphs">ONYX LOUNGE</text>
<rect class="lab" x="451" y="245" width="237" height="28"/><text class="lt" x="460" y="264.8" font-size="21.5" textLength="218" lengthAdjust="spacingAndGlyphs">AUDITORIUM / THEATRE</text>
<rect class="lab" x="162" y="352" width="225" height="32"/><text class="lt" x="173" y="373.8" font-size="21.5" textLength="202" lengthAdjust="spacingAndGlyphs">AUDITORIUM LOUNGE</text>
<rect class="lab" x="637.5" y="393.5" width="59.5" height="28.5"/><text class="lt" x="643" y="413.8" font-size="21.5" textLength="46" lengthAdjust="spacingAndGlyphs">G001</text>
<rect class="lab" x="637.5" y="451" width="59.5" height="28.5"/><text class="lt" x="643" y="471.8" font-size="21.5" textLength="47" lengthAdjust="spacingAndGlyphs">G002</text>
<rect class="lab" x="637.5" y="510" width="59.5" height="29"/><text class="lt" x="643" y="530.8" font-size="21.5" textLength="47" lengthAdjust="spacingAndGlyphs">G003</text>
<rect class="lab" x="592" y="591" width="197" height="28"/><text class="lt" x="600" y="610.8" font-size="21.5" textLength="181" lengthAdjust="spacingAndGlyphs">DIAMOND LOUNGE</text>
<rect class="lab" x="683" y="751" width="196" height="29"/><text class="lt" x="695" y="771.8" font-size="21.5" textLength="171" lengthAdjust="spacingAndGlyphs">CAFÉ AMSTERDAM</text>
<rect class="lab" x="470" y="779" width="174" height="28"/><text class="lt" x="474" y="797.9" font-size="21.5" textLength="159" lengthAdjust="spacingAndGlyphs">EUROPE FOYER 2</text>
<rect class="lab" x="470" y="964" width="174" height="31"/><text class="lt" x="476" y="985.8" font-size="21.5" textLength="155" lengthAdjust="spacingAndGlyphs">EUROPE FOYER 1</text>
<rect class="lab" x="233" y="1208" width="209" height="29"/><text class="lt" x="243.5" y="1229.8" font-size="21.5" textLength="186.0" lengthAdjust="spacingAndGlyphs">ELICIUM BALLROOM</text>
<rect class="lab" x="571" y="1230" width="144" height="28"/><text class="lt" x="582" y="1250.8" font-size="21.5" textLength="123" lengthAdjust="spacingAndGlyphs">GRAND CAFÉ</text>
<circle cx="939.6" cy="240.6" r="42.2" fill="#fff"/><text class="ht" x="939.1" y="228.0" font-size="19" textLength="42.5" lengthAdjust="spacingAndGlyphs">HALL</text><text class="hn" x="938.1" y="261.9" font-size="40">3</text>
<circle cx="939.6" cy="876.5" r="42.2" fill="#fff"/><text class="ht" x="939.1" y="863.9" font-size="19" textLength="42.5" lengthAdjust="spacingAndGlyphs">HALL</text><text class="hn" x="938.1" y="897.8" font-size="40">2</text>
<circle cx="337.2" cy="1297.3" r="42.2" fill="#fff"/><text class="ht" x="336.7" y="1284.7" font-size="19" textLength="42.5" lengthAdjust="spacingAndGlyphs">HALL</text><text class="hn" x="335.7" y="1318.6" font-size="40">13</text>
<rect class="eb" x="91" y="508" width="42" height="45"/><text class="et" x="112.0" y="539.2">E</text>
<path class="ar" d="M91,531 H58 M68,521 L57.5,531 L68,541"/>
<rect class="eb" x="474" y="572" width="36" height="42"/><text class="et" x="489.5" y="601.3">H</text>
<path class="ar" d="M510,593.2 H540 M529.5,583.8 L540.3,593.2 L529.5,602.6"/>
<rect class="eb" x="337" y="1395" width="42" height="41"/><text class="et" x="358.0" y="1424.2">D</text>
<path class="ar" d="M358,1395 V1378 M349,1388 L358,1377.5 L367,1388"/>
<rect class="eb" x="960" y="1381" width="43" height="45"/><text class="et" x="981.5" y="1412.2">K</text>
<path class="ar" d="M981,1381 V1357 M972,1367 L981,1356.5 L990,1367"/>
<g transform="translate(710.3,819.6)"><circle r="27" fill="#0a0a0a"/><path fill="#fff" d="M-11,-18.3 h2.4 v8 h1.7 v-8 h2.6 v8 h1.7 v-8 h2.6 v10.5 q0,3.2 -3.2,4.6 l0.7,19 h-4.4 l0.7,-19 q-3.2,-1.4 -3.2,-4.6 z"/><path fill="#fff" d="M6.4,-18.3 h4.2 v36.1 h-4.6 l0.6,-15.5 q-3.6,-1.5 -3.4,-5.5 q0.3,-8 3.2,-15.1 z"/></g>
<g transform="translate(643.7,1291)"><circle r="27" fill="#0a0a0a"/><path fill="#fff" d="M-11,-18.3 h2.4 v8 h1.7 v-8 h2.6 v8 h1.7 v-8 h2.6 v10.5 q0,3.2 -3.2,4.6 l0.7,19 h-4.4 l0.7,-19 q-3.2,-1.4 -3.2,-4.6 z"/><path fill="#fff" d="M6.4,-18.3 h4.2 v36.1 h-4.6 l0.6,-15.5 q-3.6,-1.5 -3.4,-5.5 q0.3,-8 3.2,-15.1 z"/></g>
</g>

<!-- SECTION:LABELS -->
<!-- ===== RED CALLOUTS ===== -->
<g id="red">
<rect x="217" y="480" width="260" height="182" fill="#000" opacity="0.35" filter="url(#sh)"/>
<rect x="184" y="697" width="304" height="215" fill="#000" opacity="0.35" filter="url(#sh)"/>
<polygon points="474,521 578,521 578,499 637,527 578,555 578,535 474,535" fill="#000" opacity="0.25" filter="url(#sh)"/>
<polygon points="485,763 620,759 620,737 677,762 620,792 620,771 485,773" fill="#000" opacity="0.25" filter="url(#sh)"/>
<rect x="220.1" y="480.9" width="248.5" height="171.2" fill="#fff" stroke="#ff2600" stroke-width="11.2"/>
<rect x="188" y="698.9" width="292" height="203.2" fill="#fff" stroke="#ff2600" stroke-width="11.2"/>
<polygon class="red" points="474,519 578,519 578,496.2 633.5,523.6 578,551.4 578,531.2 474,531.2"/>
<polygon class="red" points="485.5,760.1 619.8,756 619.8,733.6 674.8,759.1 619.8,788.6 619.8,768.3 485.5,770.3"/>
<text class="rt" x="247.8" y="539" font-size="37.3">Maintainers</text>
<text class="rt" x="247.8" y="582.2" font-size="37.3">Meeting</text>
<text class="rt" x="247.8" y="625.4" font-size="37.3">Room</text>
<text class="rt" x="206.3" y="748" font-size="37.3">Ambassador +</text>
<text class="rt" x="206.8" y="791.2" font-size="37.3">Maintainer +</text>
<text class="rt" x="206.8" y="834.6" font-size="37.3">Kubestronoaut</text>
<text class="rt" x="206.8" y="878" font-size="37.3">Lounge</text>
</g>

<!-- SECTION:RED -->

<rect x="1102.3" y="0" width="2.4" height="1446" fill="#0a0a0a"/>
</svg>
</body>
</html>
